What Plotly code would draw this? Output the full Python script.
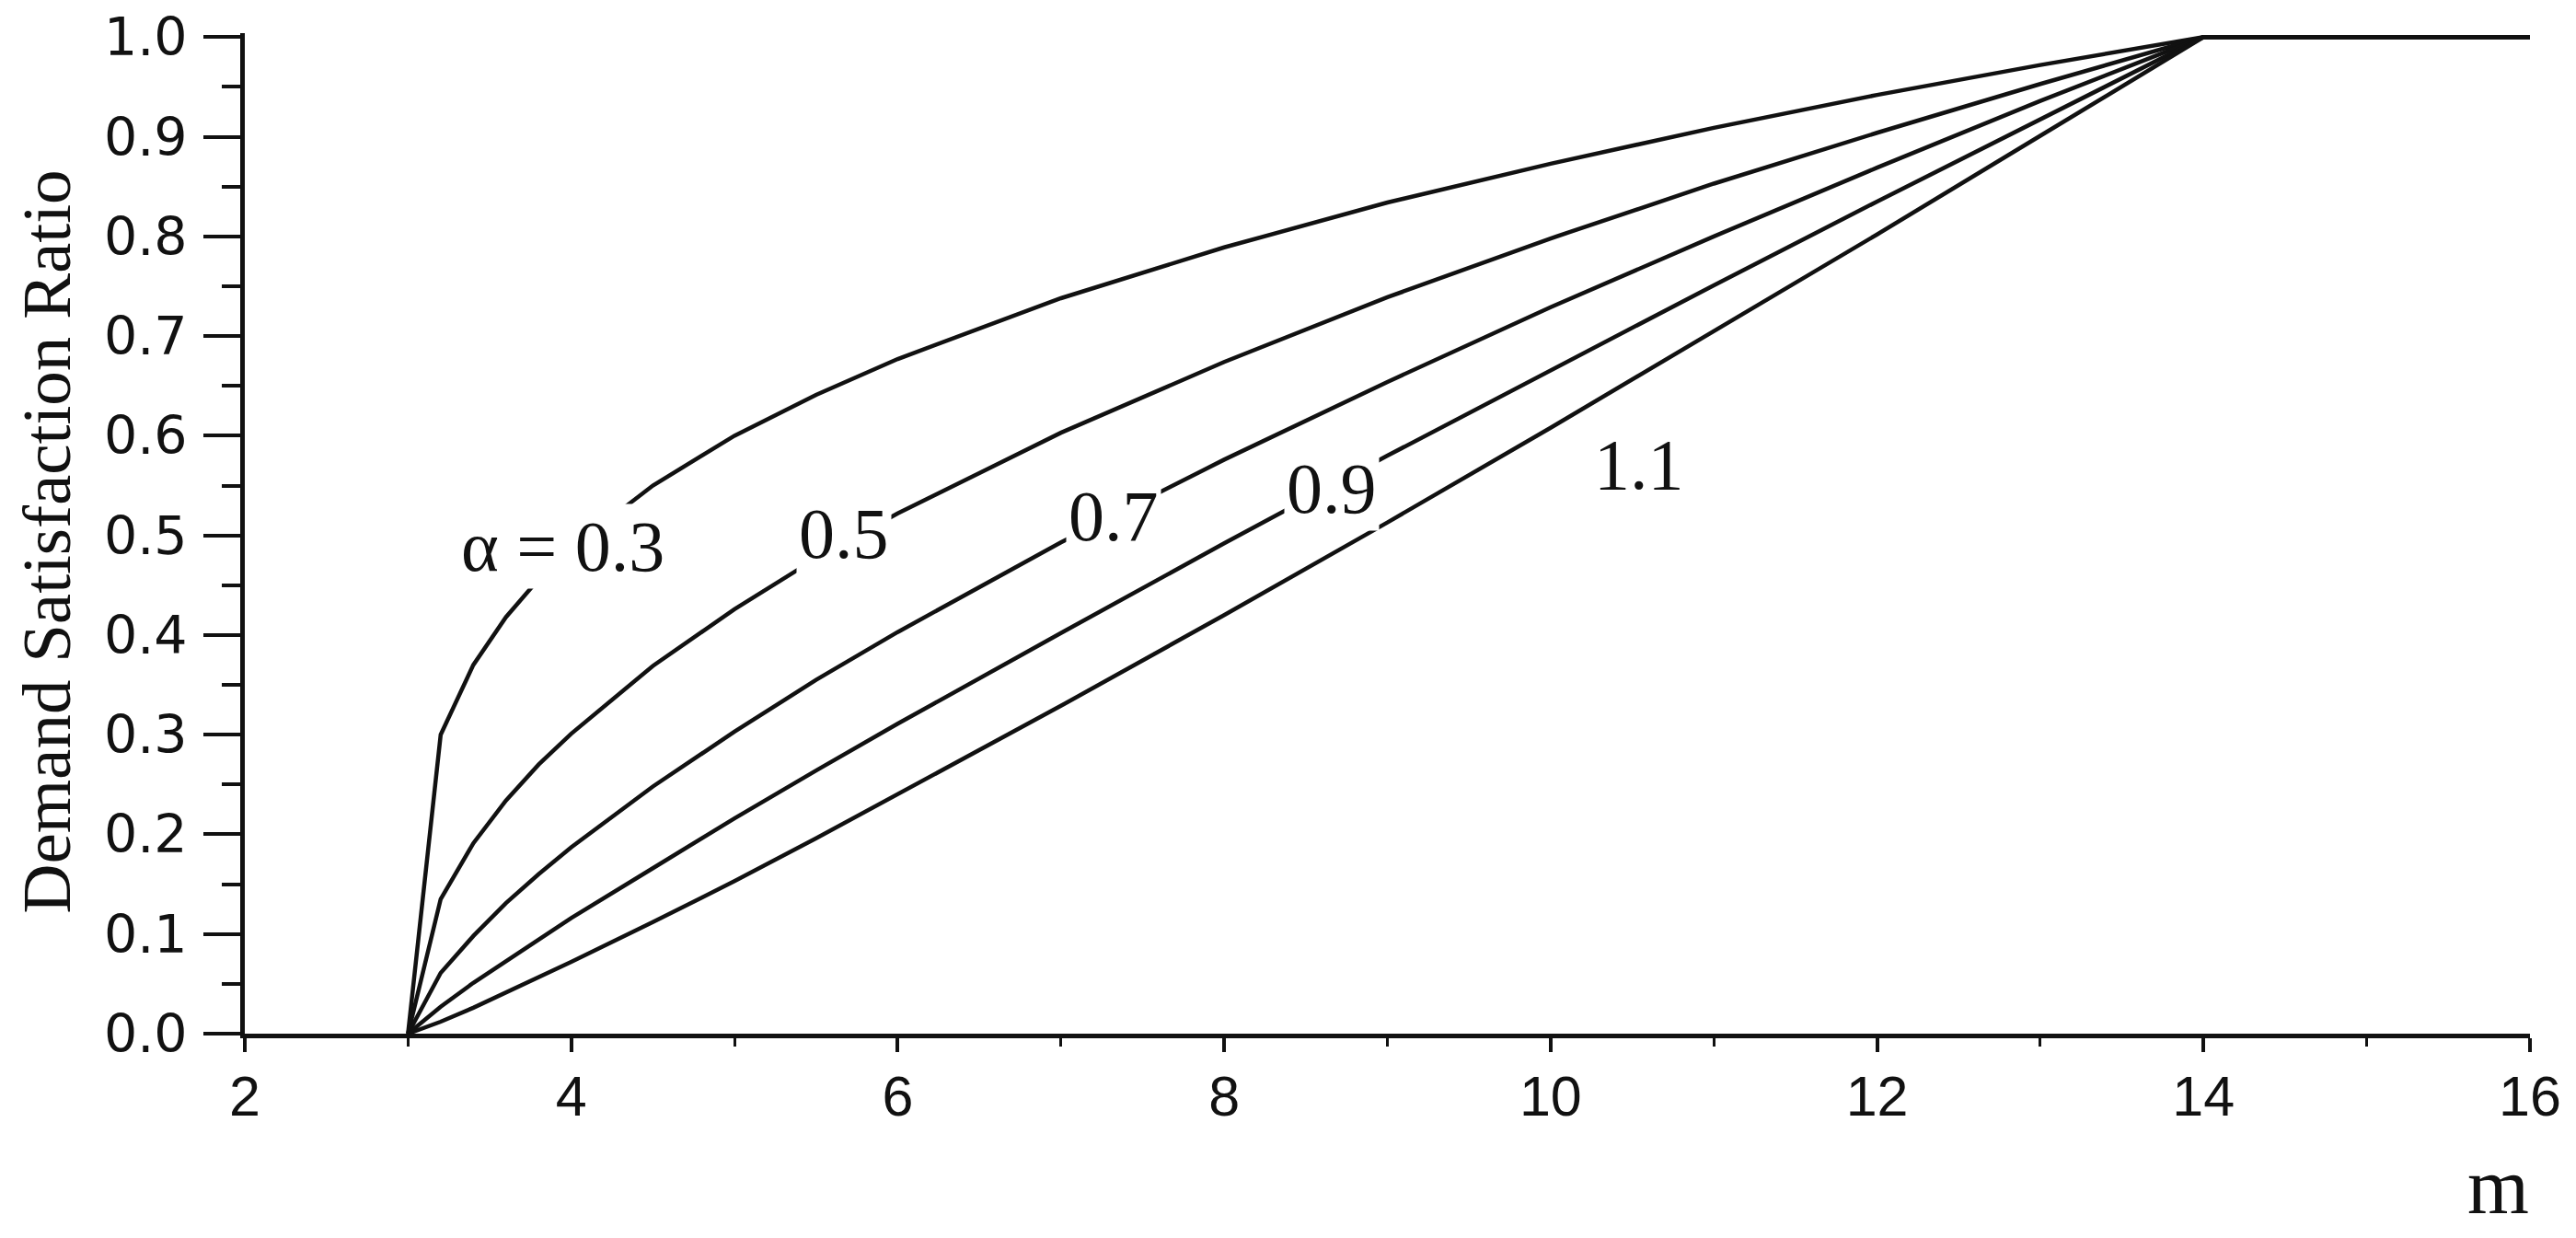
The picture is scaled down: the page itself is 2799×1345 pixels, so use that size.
import plotly.graph_objects as go

# m values and demand satisfaction ratio, one list per alpha
m_vals = [3, 3.2, 3.4, 3.6, 3.8, 4, 4.5, 5, 5.5, 6, 7, 8, 9, 10, 11, 12, 13, 13.5, 14, 16]
dsr_03 = [0, 0.300, 0.370, 0.418, 0.456, 0.487, 0.550, 0.600, 0.641, 0.677, 0.738, 0.789,
          0.834, 0.873, 0.909, 0.942, 0.972, 0.986, 1.0, 1.0]
dsr_05 = [0, 0.135, 0.191, 0.234, 0.270, 0.301, 0.369, 0.426, 0.477, 0.522, 0.603, 0.674,
          0.739, 0.798, 0.853, 0.904, 0.953, 0.977, 1.0, 1.0]
dsr_07 = [0, 0.061, 0.098, 0.131, 0.160, 0.187, 0.248, 0.303, 0.355, 0.403, 0.493, 0.576,
          0.654, 0.729, 0.800, 0.869, 0.936, 0.968, 1.0, 1.0]
dsr_09 = [0, 0.027, 0.051, 0.073, 0.095, 0.116, 0.166, 0.216, 0.264, 0.311, 0.402, 0.492,
          0.580, 0.666, 0.751, 0.835, 0.918, 0.959, 1.0, 1.0]
dsr_11 = [0, 0.012, 0.026, 0.041, 0.056, 0.072, 0.112, 0.153, 0.196, 0.240, 0.329, 0.420,
          0.513, 0.608, 0.705, 0.802, 0.901, 0.950, 1.0, 1.0]

curve_labels = ["α = 0.3", "0.5", "0.7", "0.9", "1.1"]
label_m = [3.95, 5.67, 7.32, 8.66, 10.54]
label_y = [0.489, 0.502, 0.520, 0.547, 0.571]

_INK = "#111111"
_SERIF = "Liberation Serif, Times New Roman, serif"
_SANS = "Liberation Sans, Arial, sans-serif"

fig = go.Figure()

for ys in (dsr_03, dsr_05, dsr_07, dsr_09, dsr_11):
    fig.add_trace(go.Scatter(
        x=m_vals, y=ys, mode="lines",
        line=dict(color=_INK, width=4.5),
        showlegend=False, hoverinfo="skip",
    ))

# curve labels sit on the lines; white box breaks the line behind them
for txt, xm, yv in zip(curve_labels, label_m, label_y):
    fig.add_annotation(
        x=xm, y=yv, text=txt, showarrow=False,
        font=dict(family=_SERIF, size=78, color=_INK),
        bgcolor="white", borderpad=2,
        xanchor="center", yanchor="middle",
    )

# axis titles
fig.add_annotation(
    text="Demand Satisfaction Ratio", textangle=-90,
    xref="paper", yref="paper", x=-0.0868, y=0.492,
    xanchor="center", yanchor="middle", showarrow=False,
    font=dict(family=_SERIF, size=75, color=_INK),
)
fig.add_annotation(
    text="m", xref="paper", yref="paper", x=0.986, y=-0.153,
    xanchor="center", yanchor="middle", showarrow=False,
    font=dict(family=_SERIF, size=86, color=_INK),
)

# page body adds 8px, margins are set so the plot lands where the reference has it
fig.update_layout(
    width=2799, height=1345,
    plot_bgcolor="white", paper_bgcolor="white",
    margin=dict(l=258, r=58, t=28, b=230),
)
fig.update_xaxes(
    range=[2, 16], dtick=2, tick0=2,
    showgrid=False, zeroline=False, automargin=False,
    showline=True, linecolor=_INK, linewidth=5,
    ticks="outside", ticklen=15, tickwidth=4, tickcolor=_INK,
    minor=dict(dtick=1, ticks="outside", ticklen=9, tickwidth=3, tickcolor=_INK),
    tickfont=dict(family=_SANS, size=61, color=_INK),
    ticklabelstandoff=-4,
)
fig.update_yaxes(
    range=[0, 1.004], dtick=0.1, tick0=0, tickformat=".1f",
    showgrid=False, zeroline=False, automargin=False,
    showline=True, linecolor=_INK, linewidth=5,
    ticks="outside", ticklen=40, tickwidth=4, tickcolor=_INK,
    minor=dict(dtick=0.05, ticks="outside", ticklen=20, tickwidth=4, tickcolor=_INK),
    tickfont=dict(family="DejaVu Sans, Verdana, sans-serif", size=57, color=_INK),
    ticklabelstandoff=6,
    ticklabeloverflow="allow",
)

fig.write_html("out.html")
